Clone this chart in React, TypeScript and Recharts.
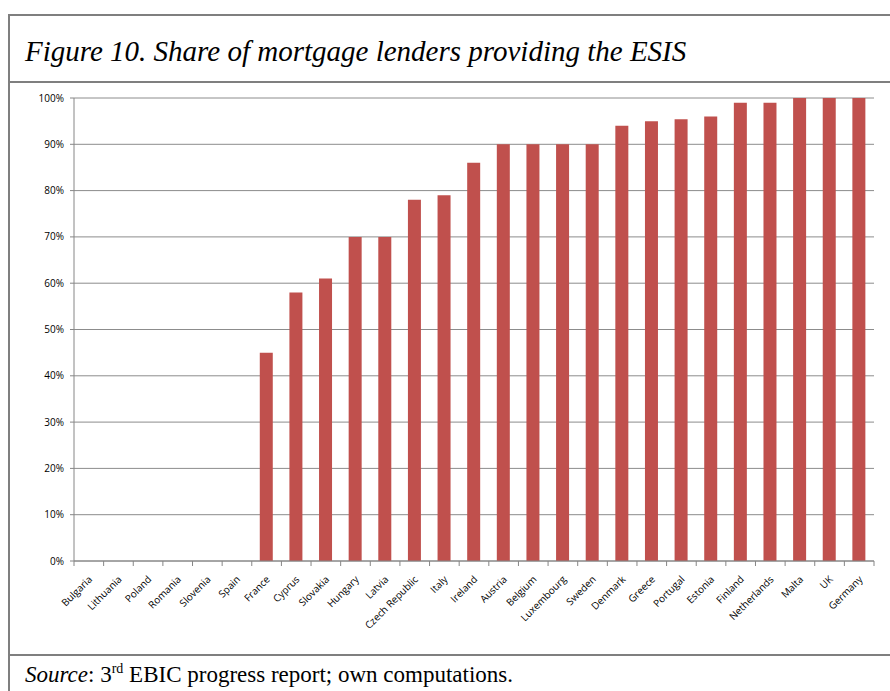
import { BarChart, Bar, XAxis, YAxis, CartesianGrid } from "recharts"

const countries = [
  "Bulgaria", "Lithuania", "Poland", "Romania", "Slovenia", "Spain", "France", "Cyprus", "Slovakia",
  "Hungary", "Latvia", "Czech Republic", "Italy", "Ireland", "Austria", "Belgium", "Luxembourg",
  "Sweden", "Denmark", "Greece", "Portugal", "Estonia", "Finland", "Netherlands", "Malta", "UK", "Germany",
]
const shares = [0, 0, 0, 0, 0, 0, 45, 58, 61, 70, 70, 78, 79, 86, 90, 90, 90, 90, 94, 95, 95.4, 96, 99, 99, 100, 100, 100]
const yTicks = [0, 10, 20, 30, 40, 50, 60, 70, 80, 90, 100]

const data = countries.map((name, i) => ({ name, share: shares[i] }))

const W = 890
const H = 655
const PLOT_LEFT = 74
const PLOT_RIGHT = 16
const step = (W - PLOT_LEFT - PLOT_RIGHT) / countries.length

function CountryTick({ x, y, payload, index }: any) {
  const left = x - step / 2
  return (
    <g>
      <line x1={left} y1={y - 8} x2={left} y2={y - 3} stroke="#868686" />
      {index === countries.length - 1 && (
        <line x1={x + step / 2} y1={y - 8} x2={x + step / 2} y2={y - 3} stroke="#868686" />
      )}
      <text
        transform={`translate(${x + 4},${y + 11}) rotate(-45)`}
        textAnchor="end"
        fontSize={10}
        fontFamily="'Open Sans', sans-serif"
        fill="#000"
      >
        {payload.value}
      </text>
    </g>
  )
}

export default function App() {
  const border = "#7f7f7f"
  return (
    <div style={{ position: "absolute", left: 0, top: 0, width: W, height: 691, background: "#fff", overflow: "hidden" }}>
      <div style={{ position: "absolute", left: 8, top: 14, width: 900, height: 700, borderLeft: `2px solid ${border}`, borderTop: `2px solid ${border}` }} />
      <div style={{ position: "absolute", left: 8, top: 81, width: 900, height: 2, background: border }} />
      <div style={{ position: "absolute", left: 8, top: 654, width: 900, height: 2, background: border }} />
      <div
        style={{
          position: "absolute",
          left: 25,
          top: 35,
          fontFamily: "'Liberation Serif', serif",
          fontStyle: "italic",
          fontSize: 29,
          whiteSpace: "nowrap",
          color: "#000",
        }}
      >
        Figure 10. Share of mortgage lenders providing the ESIS
      </div>
      <div
        style={{
          position: "absolute",
          left: 25,
          top: 661,
          fontFamily: "'Liberation Serif', serif",
          fontSize: 23,
          whiteSpace: "nowrap",
          color: "#000",
        }}
      >
        <i>Source</i>: 3<sup style={{ fontSize: 14 }}>rd</sup> EBIC progress report; own computations.
      </div>
      <div style={{ position: "absolute", left: 0, top: 0 }}>
        <BarChart width={W} height={H} data={data} margin={{ top: 98, right: PLOT_RIGHT, bottom: 0, left: 0 }}>
          <CartesianGrid vertical={false} stroke="#8c8c8c" />
          <XAxis
            dataKey="name"
            interval={0}
            height={94}
            stroke="#868686"
            tickLine={false}
            tick={<CountryTick />}
          />
          <YAxis
            width={PLOT_LEFT}
            domain={[0, 100]}
            ticks={yTicks}
            tickFormatter={(v: number) => `${v}%`}
            stroke="#868686"
            tickSize={4}
            tickMargin={6}
            tick={{ fontSize: 10, fill: "#000", fontFamily: "'Open Sans', sans-serif" }}
          />
          <Bar dataKey="share" fill="#c0504d" barSize={13} isAnimationActive={false} />
        </BarChart>
      </div>
    </div>
  )
}
